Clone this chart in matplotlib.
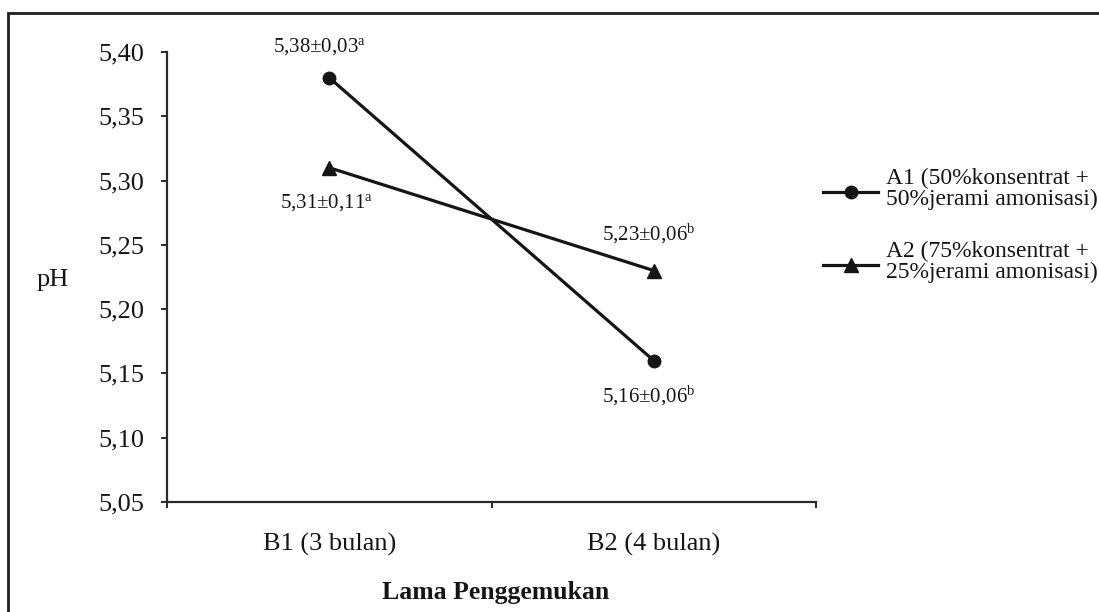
import matplotlib
matplotlib.use("Agg")
import matplotlib.pyplot as plt
from matplotlib.lines import Line2D
from matplotlib.patches import Rectangle

plt.rcParams['font.family'] = ['Liberation Serif', 'DejaVu Serif']
plt.rcParams['mathtext.fontset'] = 'custom'
plt.rcParams['mathtext.rm'] = 'Liberation Serif'
plt.rcParams['mathtext.it'] = 'Liberation Serif:italic'

# ---- data ----
categories = ["B1 (3 bulan)", "B2 (4 bulan)"]
a1_values = [5.38, 5.16]
a2_values = [5.31, 5.23]
a1_labels = ["5,38±0,03$^{\\mathrm{a}}$", "5,16±0,06$^{\\mathrm{b}}$"]
a2_labels = ["5,31±0,11$^{\\mathrm{a}}$", "5,23±0,06$^{\\mathrm{b}}$"]
a1_name = "A1 (50%konsentrat +\n50%jerami amonisasi)"
a2_name = "A2 (75%konsentrat +\n25%jerami amonisasi)"
y_ticks = [5.05, 5.10, 5.15, 5.20, 5.25, 5.30, 5.35, 5.40]
y_ticklabels = ["5,05", "5,10", "5,15", "5,20", "5,25", "5,30", "5,35", "5,40"]
x_label = "Lama Penggemukan"
y_label = "pH"

W, H = 1099, 612
fig = plt.figure(figsize=(W / 100, H / 100), dpi=100)
fig.patch.set_facecolor('white')

def fx(px):
    return px / W

def fy(py):
    return 1 - py / H

ax = fig.add_axes([fx(167), fy(502), fx(816) - fx(167), fy(52) - fy(502)])
ax.set_facecolor('none')

ink = '#151515'
x = list(range(len(categories)))
line_kw = dict(color=ink, linewidth=2.3, clip_on=False, zorder=3)
l1, = ax.plot(x, a1_values, marker='o', markersize=9, **line_kw)
l2, = ax.plot(x, a2_values, marker='^', markersize=10.5, **line_kw)

ax.set_xlim(-0.5, len(categories) - 0.5)
ax.set_ylim(5.05, 5.40)

for s in ['top', 'right']:
    ax.spines[s].set_visible(False)
for s in ['left', 'bottom']:
    ax.spines[s].set_linewidth(1.6)
    ax.spines[s].set_color('#2a2a2a')

ax.set_yticks(y_ticks)
ax.set_yticklabels(y_ticklabels, fontsize=19, color=ink)
ax.tick_params(axis='y', direction='out', length=4.5, width=1.4, pad=12, color='#2a2a2a')

ax.set_xticks([i - 0.5 for i in range(len(categories) + 1)])
ax.set_xticklabels([])
ax.tick_params(axis='x', which='major', direction='out', length=4.5, width=1.4, color='#2a2a2a')
ax.set_xticks(x, minor=True)
ax.set_xticklabels(categories, minor=True, fontsize=19, color=ink)
ax.tick_params(axis='x', which='minor', length=0, pad=22)

ax.set_xlabel(x_label, fontsize=18.5, fontweight='bold', color=ink, va='center')
ax.xaxis.set_label_coords(0.507, -0.2)
ax.set_ylabel(y_label, fontsize=19, rotation=0, ha='center', va='center', color=ink)
ax.yaxis.set_label_coords(-0.1757, 0.493)

# annotations
offsets_a1 = [(-10, 31), (-5, -35)]
offsets_a2 = [(-3, -35), (-5, 37)]
for xi, v, lab, off in zip(x, a1_values, a1_labels, offsets_a1):
    ax.annotate(lab, xy=(xi, v), xytext=off, textcoords='offset pixels',
                ha='center', va='center', fontsize=15, color=ink)
for xi, v, lab, off in zip(x, a2_values, a2_labels, offsets_a2):
    ax.annotate(lab, xy=(xi, v), xytext=off, textcoords='offset pixels',
                ha='center', va='center', fontsize=15, color=ink)

# legend (drawn manually so the key sits on the first text line)
for line, name, ky in [(l1, a1_name, 192), (l2, a2_name, 265)]:
    key = Line2D([fx(823), fx(878)], [fy(ky), fy(ky)], transform=fig.transFigure,
                 color=ink, linewidth=2.3)
    fig.add_artist(key)
    mk = Line2D([fx(851)], [fy(ky)], transform=fig.transFigure, color=ink,
                marker=line.get_marker(), markersize=line.get_markersize(), linestyle='none')
    fig.add_artist(mk)
    fig.text(fx(886), fy(ky + 13), name, ha='left', va='baseline', fontsize=17,
             color=ink, linespacing=1.0)

# outer frame (clipped by the image edges on the right and bottom)
frame = Rectangle((fx(8), -0.2), 1.5, fy(13) + 0.2, transform=fig.transFigure,
                  fill=False, edgecolor='#1e1e1e', linewidth=2.0, clip_on=False)
fig.add_artist(frame)

fig.savefig('out.png', dpi=100, facecolor='white')
